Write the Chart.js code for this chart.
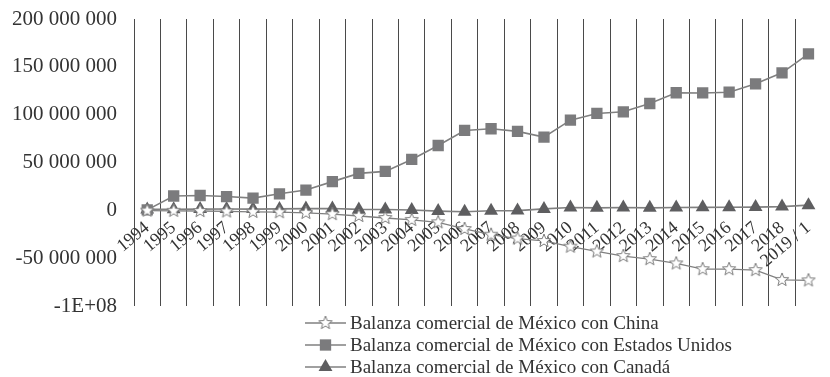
<!DOCTYPE html>
<html>
<head>
<meta charset="utf-8">
<style>
  html, body { margin: 0; padding: 0; background: #ffffff; }
  #wrap { width: 830px; height: 377px; }
</style>
<script src="https://cdn.jsdelivr.net/npm/chart.js@4/dist/chart.umd.min.js"></script>
</head>
<body>
<div id="wrap"><canvas id="chart" width="830" height="377"></canvas></div>
<script>
// Periods (2019 is January only)
const years = ['1994', '1995', '1996', '1997', '1998', '1999', '2000', '2001', '2002',
  '2003', '2004', '2005', '2006', '2007', '2008', '2009', '2010', '2011', '2012',
  '2013', '2014', '2015', '2016', '2017', '2018', '2019 / 1'];

// Trade balance of Mexico with each partner
const balanceChina = [-300000, -500000, -700000, -1100000, -1600000, -1900000, -2600000,
  -3900000, -5900000, -8000000, -10000000, -12500000, -19500000, -25500000, -29500000,
  -32000000, -38000000, -43000000, -47800000, -51000000, -55500000, -61500000,
  -61500000, -62500000, -72700000, -73200000];

const balanceUSA = [500000, 15000000, 15500000, 14400000, 12800000, 17300000, 21200000,
  30000000, 38600000, 40700000, 53200000, 67800000, 83500000, 85300000, 82500000,
  76500000, 94300000, 101300000, 103000000, 111700000, 122900000, 122700000,
  123500000, 132200000, 143700000, 163600000];

const balanceCanada = [1000000, 1200000, 1300000, 1400000, 1300000, 1500000, 1800000,
  1900000, 1000000, 800000, 300000, -800000, -1500000, -500000, -300000, 1500000,
  2900000, 2600000, 3000000, 2600000, 3000000, 3100000, 3300000, 3400000, 3900000,
  5400000];

const seriesNames = [
  'Balanza comercial de México con China',
  'Balanza comercial de México con Estados Unidos',
  'Balanza comercial de México con Canadá'
];

// Value axis ticks and the way they are printed
const yTickValues = [-100000000, -50000000, 0, 50000000, 100000000, 150000000, 200000000];
const yTickLabels = ['-1E+08', '-50 000 000', '0', '50 000 000', '100 000 000', '150 000 000', '200 000 000'];

const FONT = "'Liberation Serif', 'Times New Roman', serif";
const TEXT = '#333333';

// Five-pointed hollow star used as a marker
function makeStar(outer, inner, fill, stroke) {
  const size = Math.ceil(outer * 2 + 4);
  const cv = document.createElement('canvas');
  cv.width = size; cv.height = size;
  const g = cv.getContext('2d');
  const c = size / 2;
  g.beginPath();
  for (let k = 0; k < 10; k++) {
    const r = k % 2 === 0 ? outer : inner;
    const a = -Math.PI / 2 + k * Math.PI / 5;
    const px = c + r * Math.cos(a), py = c + r * Math.sin(a);
    if (k === 0) g.moveTo(px, py); else g.lineTo(px, py);
  }
  g.closePath();
  g.fillStyle = fill; g.fill();
  g.lineWidth = 1; g.strokeStyle = stroke; g.stroke();
  return cv;
}
const starMarker = makeStar(7, 3, '#ffffff', '#7a7a7a');

// Stacked key under the plot, drawn from the datasets' own styles
const seriesKey = {
  id: 'seriesKey',
  afterDraw(chart) {
    const ctx = chart.ctx;
    ctx.save();
    chart.data.datasets.forEach((ds, i) => {
      const y = 323 + i * 22;
      const x0 = 305, x1 = 346, xm = (x0 + x1) / 2;
      ctx.strokeStyle = ds.borderColor;
      ctx.lineWidth = ds.borderWidth;
      ctx.beginPath(); ctx.moveTo(x0, y); ctx.lineTo(x1, y); ctx.stroke();
      const style = ds.pointStyle;
      const r = ds.pointRadius;
      ctx.fillStyle = ds.pointBackgroundColor;
      if (style instanceof HTMLCanvasElement) {
        ctx.drawImage(style, xm - style.width / 2, y - style.height / 2);
      } else if (style === 'rect') {
        const h = r * Math.SQRT1_2;
        ctx.fillRect(xm - h, y - h, 2 * h, 2 * h);
      } else if (style === 'triangle') {
        ctx.beginPath();
        for (let k = 0; k < 3; k++) {
          const a = k * 2 * Math.PI / 3;
          const px = xm + Math.sin(a) * r, py = y - Math.cos(a) * r;
          if (k === 0) ctx.moveTo(px, py); else ctx.lineTo(px, py);
        }
        ctx.closePath(); ctx.fill();
      }
      ctx.fillStyle = TEXT;
      ctx.font = '19px ' + FONT;
      ctx.textAlign = 'left';
      ctx.textBaseline = 'middle';
      ctx.fillText(ds.label, 350, y + 1);
    });
    ctx.restore();
  }
};

new Chart(document.getElementById('chart'), {
  type: 'line',
  data: {
    labels: years,
    datasets: [
      {
        label: seriesNames[0],
        data: balanceChina,
        borderColor: '#808080',
        borderWidth: 1.3,
        pointStyle: starMarker,
        pointRadius: 7,
        pointBackgroundColor: '#ffffff',
        pointBorderColor: '#7a7a7a'
      },
      {
        label: seriesNames[1],
        data: balanceUSA,
        borderColor: '#808080',
        borderWidth: 1.6,
        pointStyle: 'rect',
        pointRadius: 8,
        pointBackgroundColor: '#7b7b7d',
        pointBorderColor: '#7b7b7d',
        pointBorderWidth: 0
      },
      {
        label: seriesNames[2],
        data: balanceCanada,
        borderColor: '#808080',
        borderWidth: 1.6,
        pointStyle: 'triangle',
        pointRadius: 8,
        pointBackgroundColor: '#5e5e60',
        pointBorderColor: '#5e5e60',
        pointBorderWidth: 0
      }
    ]
  },
  options: {
    responsive: false,
    animation: false,
    devicePixelRatio: 1,
    layout: { padding: { top: 19, bottom: 71, left: 0, right: 0 } },
    plugins: {
      legend: { display: false },
      tooltip: { enabled: false }
    },
    scales: {
      x: {
        type: 'category',
        offset: true,
        position: { y: 0 },
        border: { display: false },
        grid: {
          offset: true,
          drawTicks: false,
          lineWidth: 1,
          color: (c) => c.type === 'tick' ? '#4a4a4a' : 'rgba(0,0,0,0)'
        },
        afterFit: (scale) => { scale.paddingLeft = 0; scale.paddingRight = 0; },
        ticks: {
          autoSkip: false,
          minRotation: 40,
          maxRotation: 40,
          padding: 7,
          color: TEXT,
          font: { family: FONT, size: 18 }
        }
      },
      y: {
        min: -100000000,
        max: 200000000,
        border: { display: false },
        grid: { display: false, drawTicks: false },
        afterFit: (scale) => {
          scale.width = 134;
          scale.paddingTop = 0;
          scale.paddingBottom = 0;
        },
        afterBuildTicks: (scale) => { scale.ticks = yTickValues.map(v => ({ value: v })); },
        ticks: {
          padding: 17,
          color: TEXT,
          font: { family: FONT, size: 21 },
          callback: (v) => yTickLabels[yTickValues.indexOf(v)]
        }
      }
    }
  },
  plugins: [seriesKey]
});
</script>
</body>
</html>
